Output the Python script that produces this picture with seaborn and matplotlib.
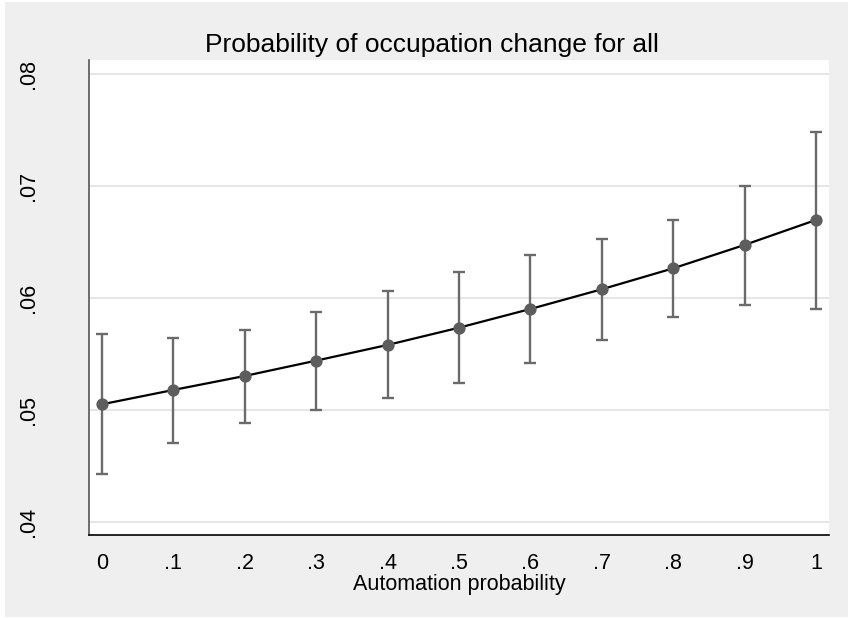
import matplotlib
matplotlib.use("Agg")
import matplotlib.pyplot as plt
from matplotlib.patches import Rectangle
import seaborn as sns
import pandas as pd

# ---- data ----
automation_prob = [0.0, 0.1, 0.2, 0.3, 0.4, 0.5, 0.6, 0.7, 0.8, 0.9, 1.0]
prob_change = [0.05048, 0.05176, 0.05301, 0.05438, 0.05578, 0.05732,
               0.05899, 0.06075, 0.06262, 0.06471, 0.06694]
ci_upper = [0.05679, 0.05640, 0.05712, 0.05873, 0.06057, 0.06229,
            0.06381, 0.06521, 0.06696, 0.07000, 0.07480]
ci_lower = [0.04429, 0.04700, 0.04881, 0.04997, 0.05102, 0.05236,
            0.05414, 0.05622, 0.05830, 0.05937, 0.05902]
x_ticks = [0, 0.1, 0.2, 0.3, 0.4, 0.5, 0.6, 0.7, 0.8, 0.9, 1.0]
x_tick_labels = ["0", ".1", ".2", ".3", ".4", ".5", ".6", ".7", ".8", ".9", "1"]
y_ticks = [0.04, 0.05, 0.06, 0.07, 0.08]
y_tick_labels = [".04", ".05", ".06", ".07", ".08"]
title = "Probability of occupation change for all"
x_label = "Automation probability"

df = pd.DataFrame({"x": automation_prob, "y": prob_change,
                   "lo": ci_lower, "hi": ci_upper})

sns.set_theme(style="white")
plt.rcParams["font.family"] = ["Liberation Sans", "DejaVu Sans"]

W, H = 852, 618
fig = plt.figure(figsize=(W / 100, H / 100), dpi=100, facecolor="white")
# outer gray graph region
bg = Rectangle((5 / W, 1 / H), (848 - 5) / W, (615 - 0) / H,
               transform=fig.transFigure, facecolor="#efefef",
               edgecolor="none", zorder=-10)
fig.patches.append(bg)

ax = fig.add_axes([89 / W, 1 - 535 / H, (829.3 - 89) / W, (535 - 60) / H])
ax.set_zorder(1)
ax.set_facecolor("white")

gray = "#5d5d5d"
err_gray = "#6a6a6a"
ax.errorbar(df["x"], df["y"],
            yerr=[df["y"] - df["lo"], df["hi"] - df["y"]],
            fmt="none", ecolor=err_gray, elinewidth=1.7, capsize=4.5,
            capthick=1.7, zorder=2)
sns.lineplot(data=df, x="x", y="y", ax=ax, color="black", linewidth=1.6,
             zorder=3, errorbar=None)
sns.scatterplot(data=df, x="x", y="y", ax=ax, color=gray, s=78,
                edgecolor=gray, linewidth=0, zorder=4)

ax.set_xlim(-0.0182, 1.0186)
ax.set_ylim(0.03881, 0.08122)
ax.set_xticks(x_ticks)
ax.set_xticklabels(x_tick_labels, fontsize=15.5, color="black")
ax.set_yticks(y_ticks)
ax.set_yticklabels(y_tick_labels, fontsize=15.5, color="black",
                   rotation=90, va="center")
ax.grid(axis="y", color="#e6e6e6", linewidth=1.4)
ax.grid(axis="x", visible=False)
ax.tick_params(axis="both", which="major", length=6, width=1.0,
               color="#555555", direction="out")
ax.tick_params(axis="x", pad=7)
ax.tick_params(axis="y", pad=30)

for s in ["top", "right"]:
    ax.spines[s].set_visible(False)
ax.spines["left"].set_color("#555555")
ax.spines["left"].set_linewidth(1.2)
ax.spines["bottom"].set_color("black")
ax.spines["bottom"].set_linewidth(1.2)

ax.set_xlabel(x_label, fontsize=15.5, color="black", labelpad=0)
ax.set_ylabel("")

fig.text(431.7 / W, 1 - 52 / H, title, fontsize=19, ha="center",
         va="baseline", color="black")

fig.savefig("out.png", dpi=100, facecolor="white")
